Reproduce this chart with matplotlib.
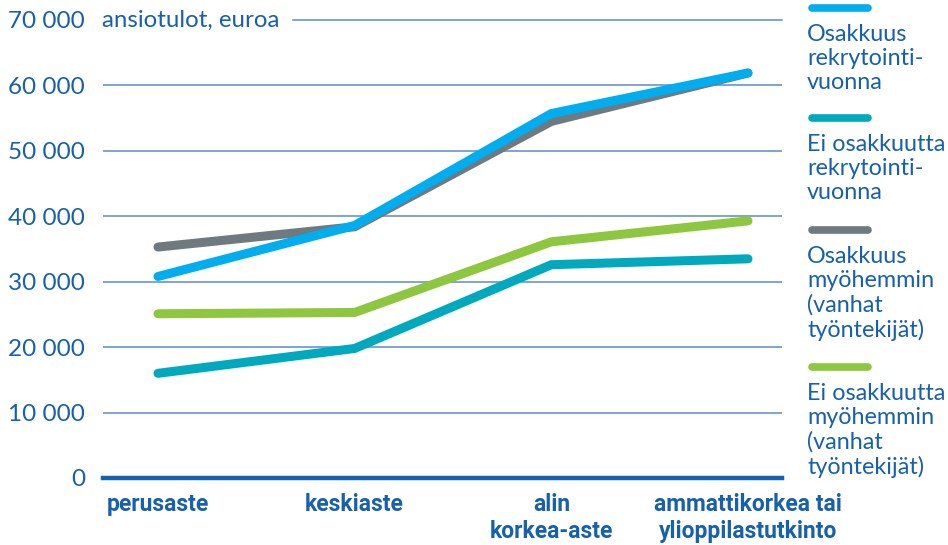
import matplotlib.pyplot as plt
from matplotlib.lines import Line2D

# data
categories = ['perusaste', 'keskiaste', 'alin\nkorkea-aste', 'ammattikorkea tai\nylioppilastutkinto']
osakkuus_rekry = [30800, 38600, 55700, 61900]
ei_osakkuutta_rekry = [16000, 19800, 32600, 33500]
osakkuus_myohemmin = [35300, 38400, 54500, 61900]
ei_osakkuutta_myohemmin = [25100, 25300, 36100, 39300]
yticks = [0, 10000, 20000, 30000, 40000, 50000, 60000, 70000]

series = [
    ('Osakkuus\nrekrytointi-\nvuonna', osakkuus_rekry, '#00aeef'),
    ('Ei osakkuutta\nrekrytointi-\nvuonna', ei_osakkuutta_rekry, '#00a9bd'),
    ('Osakkuus\nmyöhemmin\n(vanhat\ntyöntekijät)', osakkuus_myohemmin, '#6e7a80'),
    ('Ei osakkuutta\nmyöhemmin\n(vanhat\ntyöntekijät)', ei_osakkuutta_myohemmin, '#8dc63f'),
]
draw_order = [2, 0, 1, 3]

text_col = '#1660ad'
grid_col = '#5a8cc8'

plt.rcParams['font.family'] = ['Lato', 'DejaVu Sans']

fig = plt.figure(figsize=(9.48, 5.45), dpi=100)
ax = fig.add_axes([103 / 948, 1 - 478 / 545, (782 - 103) / 948, (478 - 20) / 545])

x = list(range(len(categories)))
ax.set_xlim(-0.2797, 3.173)
ax.set_ylim(0, 70000)

# gridlines (top one leaves room for the unit label)
for yv in yticks[1:-1]:
    ax.axhline(yv, color=grid_col, lw=1.1, zorder=1)
ax.axhline(70000, xmin=(293 - 103) / (782 - 103), color=grid_col, lw=1.1, zorder=1, clip_on=False)
ax.axhline(0, color='#1563b0', lw=3.2, zorder=1, clip_on=False)

for i in draw_order:
    name, vals, col = series[i]
    ax.plot(x, vals, color=col, lw=6.5, solid_capstyle='round', solid_joinstyle='miter', zorder=3)

for s in ax.spines.values():
    s.set_visible(False)
ax.set_yticks(yticks)
ax.set_yticklabels([f'{v:,}'.replace(',', ' ') for v in yticks])
ax.tick_params(axis='y', length=0, pad=13, labelsize=17.5, labelcolor=text_col)
ax.set_xticks(x)
ax.set_xticklabels(categories, fontsize=16.5, fontweight='bold', family=['Roboto', 'DejaVu Sans'],
                   linespacing=1.2)
ax.tick_params(axis='x', length=0, pad=11, labelcolor=text_col)

ax.text(102 / 948, 1 - 20 / 545, 'ansiotulot, euroa', transform=fig.transFigure,
        fontsize=17.3, color=text_col, va='center', ha='left')

# legend drawn by hand on the right
handle_y = [8, 118, 230, 367]
for (name, vals, col), hy in zip(series, handle_y):
    yf = 1 - hy / 545
    fig.add_artist(Line2D([812 / 948, 868 / 948], [yf, yf], color=col, lw=5.5,
                          solid_capstyle='round', transform=fig.transFigure))
    fig.text(807 / 948, 1 - (hy + 16) / 545, name, fontsize=16.8, color=text_col,
             va='top', ha='left', linespacing=1.18)

fig.savefig('out.png', dpi=100)
